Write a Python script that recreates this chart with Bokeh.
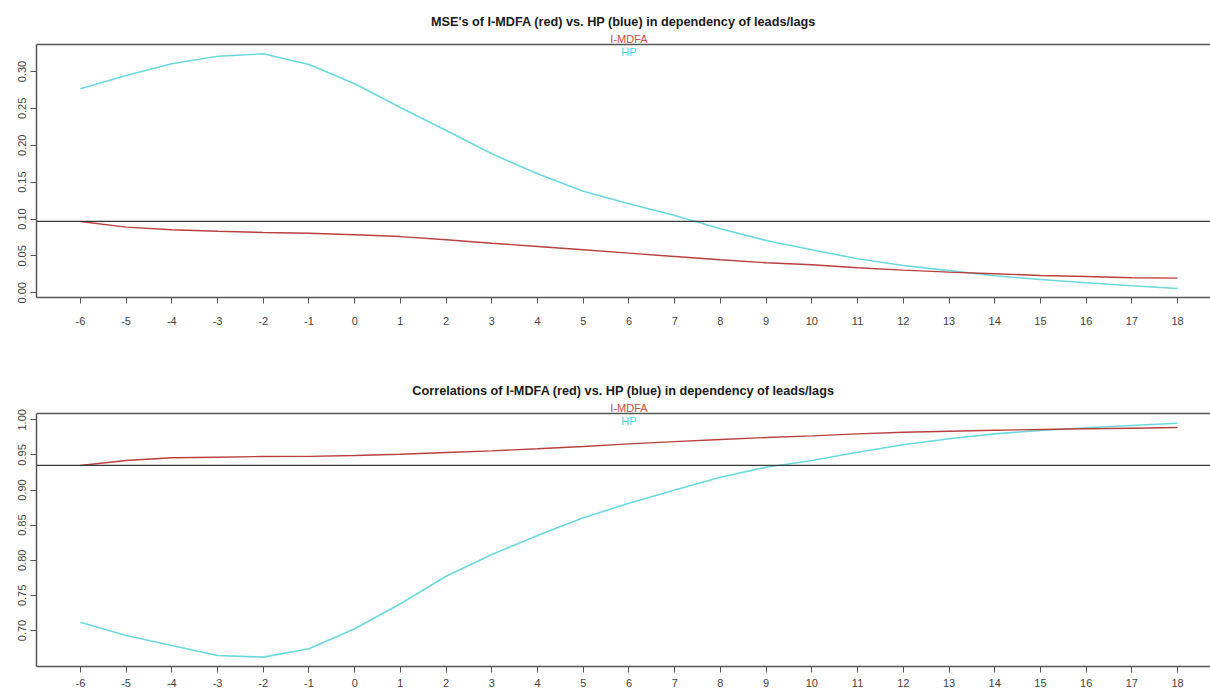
from bokeh.plotting import figure
from bokeh.models import Span, Label, FixedTicker, PrintfTickFormatter, Range1d
from bokeh.layouts import column
from bokeh.embed import file_html
from bokeh.resources import INLINE

# ---- data ----
leads = list(range(-6, 19))
mse_mdfa = [0.0967, 0.0890, 0.0854, 0.0835, 0.0817, 0.0808, 0.0786, 0.0762, 0.0718,
            0.0672, 0.0628, 0.0583, 0.0537, 0.0492, 0.0447, 0.0407, 0.0380, 0.0339,
            0.0307, 0.0280, 0.0258, 0.0235, 0.0221, 0.0203, 0.0198]
mse_hp = [0.2765, 0.2946, 0.3104, 0.3207, 0.3240, 0.3095, 0.2833, 0.2512, 0.2200,
          0.1884, 0.1613, 0.1377, 0.1206, 0.1048, 0.0868, 0.0709, 0.0583, 0.0461,
          0.0370, 0.0300, 0.0230, 0.0180, 0.0136, 0.0095, 0.0058]
cor_mdfa = [0.9350, 0.9420, 0.9460, 0.9468, 0.9477, 0.9480, 0.9492, 0.9510, 0.9534,
            0.9558, 0.9587, 0.9620, 0.9658, 0.9690, 0.9720, 0.9748, 0.9772, 0.9800,
            0.9823, 0.9838, 0.9852, 0.9862, 0.9872, 0.9880, 0.9890]
cor_hp = [0.7118, 0.6929, 0.6786, 0.6644, 0.6620, 0.6740, 0.7024, 0.7380, 0.7773,
          0.8082, 0.8353, 0.8605, 0.8813, 0.9000, 0.9183, 0.9325, 0.9420, 0.9539,
          0.9644, 0.9730, 0.9800, 0.9848, 0.9886, 0.9919, 0.9952]
mse_ticks = [0.00, 0.05, 0.10, 0.15, 0.20, 0.25, 0.30]
cor_ticks = [0.70, 0.75, 0.80, 0.85, 0.90, 0.95, 1.00]
titles = ["MSE's of I-MDFA (red) vs. HP (blue) in dependency of leads/lags",
          "Correlations of I-MDFA (red) vs. HP (blue) in dependency of leads/lags"]
series_names = ["I-MDFA", "HP"]

RED = "#B8413F"
CYAN = "#6CD9DE"
RED_TXT = "#D24A48"
CYAN_TXT = "#48D6E2"
BOX = "#555555"
FONT = "Liberation Sans"

X_LO, X_HI = -6.96, 18.72


def panel(title, red, hp, ticks, ylo, ybox, px_per_unit, height, border_top, border_bottom, standoff):
    # frame reaches 14 px above the plot box so that the legend can sit across the box line
    yhi = ybox + 14 / px_per_unit
    p = figure(width=1210, height=height, output_backend="svg", toolbar_location=None,
               x_range=Range1d(X_LO, X_HI), y_range=Range1d(ylo, yhi),
               min_border_left=36, min_border_right=0, min_border_top=border_top,
               min_border_bottom=border_bottom)
    p.title.text = title
    p.title.text_font = FONT
    p.title.text_font_size = "12.7px"
    p.title.text_font_style = "bold"
    p.title.text_color = "#1a1a1a"
    p.title.align = "center"
    p.title.standoff = 3
    p.grid.visible = False
    p.outline_line_color = None
    p.background_fill_color = "white"
    p.border_fill_color = "white"

    p.xaxis.ticker = FixedTicker(ticks=leads)
    p.xaxis.major_label_overrides = {x: str(x) for x in leads}
    p.yaxis.ticker = FixedTicker(ticks=ticks)
    p.yaxis.formatter = PrintfTickFormatter(format="%.2f")
    p.yaxis.major_label_orientation = "vertical"
    p.yaxis.bounds = (ylo, ybox)
    for ax in (p.xaxis, p.yaxis):
        ax.axis_line_color = BOX
        ax.axis_line_width = 1.5
        ax.major_tick_line_color = BOX
        ax.major_tick_out = 6
        ax.major_tick_in = 0
        ax.minor_tick_line_color = None
        ax.major_label_text_font = FONT
        ax.major_label_text_font_size = "11px"
        ax.major_label_text_color = "#444444"
    p.xaxis.major_label_standoff = standoff
    p.yaxis.major_label_standoff = 4

    # top side of the plot box
    p.add_layout(Span(location=ybox, dimension="width", line_color=BOX, line_width=1.5))
    # reference line at the first I-MDFA value
    p.add_layout(Span(location=red[0], dimension="width", line_color="#3a3a3a", line_width=1.3))
    p.line(leads, hp, line_color=CYAN, line_width=1.6)
    p.line(leads, red, line_color=RED, line_width=1.4)

    xc = (leads[0] + leads[-1]) / 2
    p.add_layout(Label(x=xc, y=ybox + 5 / px_per_unit, text=series_names[0], text_align="center",
                       text_baseline="middle", text_font=FONT, text_font_size="11px",
                       text_color=RED_TXT))
    p.add_layout(Label(x=xc, y=ybox - 8 / px_per_unit, text=series_names[1], text_align="center",
                       text_baseline="middle", text_font=FONT, text_font_size="11px",
                       text_color=CYAN_TXT))
    return p


p1 = panel(titles[0], mse_mdfa, mse_hp, mse_ticks, -0.0064, 0.3366, 1 / 0.0013557,
           377, 30, 80, 13)
p2 = panel(titles[1], cor_mdfa, cor_hp, cor_ticks, 0.6487, 1.009, 1 / 0.001424,
           312, 22, 23, 6)

layout = column(p1, p2, spacing=0)
open("out.html", "w").write(file_html(layout, INLINE))
